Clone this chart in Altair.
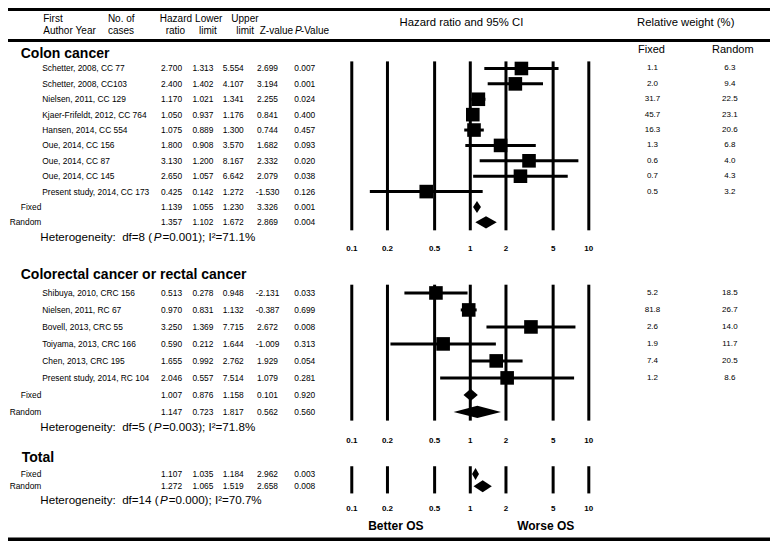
import altair as alt
import pandas as pd

# ---------------- values ----------------
colon_study = ["Schetter, 2008, CC 77", "Schetter, 2008, CC103", "Nielsen, 2011, CC 129",
               "Kjaer-Frifeldt, 2012, CC 764", "Hansen, 2014, CC 554", "Oue, 2014, CC 156",
               "Oue, 2014, CC 87", "Oue, 2014, CC 145", "Present study, 2014, CC 173"]
colon_hr = [2.700, 2.400, 1.170, 1.050, 1.075, 1.800, 3.130, 2.650, 0.425]
colon_lo = [1.313, 1.402, 1.021, 0.937, 0.889, 0.908, 1.200, 1.057, 0.142]
colon_hi = [5.554, 4.107, 1.341, 1.176, 1.300, 3.570, 8.167, 6.642, 1.272]
colon_z = [2.699, 3.194, 2.255, 0.841, 0.744, 1.682, 2.332, 2.079, -1.530]
colon_p = [0.007, 0.001, 0.024, 0.400, 0.457, 0.093, 0.020, 0.038, 0.126]
colon_wf = [1.1, 2.0, 31.7, 45.7, 16.3, 1.3, 0.6, 0.7, 0.5]
colon_wr = [6.3, 9.4, 22.5, 23.1, 20.6, 6.8, 4.0, 4.3, 3.2]
colon_fixed = [1.139, 1.055, 1.230, 3.326, 0.001]   # HR, lower, upper, Z, P
colon_random = [1.357, 1.102, 1.672, 2.869, 0.004]

crc_study = ["Shibuya, 2010, CRC 156", "Nielsen, 2011, RC 67", "Bovell, 2013, CRC 55",
             "Toiyama, 2013, CRC 166", "Chen, 2013, CRC 195", "Present study, 2014, RC 104"]
crc_hr = [0.513, 0.970, 3.250, 0.590, 1.655, 2.046]
crc_lo = [0.278, 0.831, 1.369, 0.212, 0.992, 0.557]
crc_hi = [0.948, 1.132, 7.715, 1.644, 2.762, 7.514]
crc_z = [-2.131, -0.387, 2.672, -1.009, 1.929, 1.079]
crc_p = [0.033, 0.699, 0.008, 0.313, 0.054, 0.281]
crc_wf = [5.2, 81.8, 2.6, 1.9, 7.4, 1.2]
crc_wr = [18.5, 26.7, 14.0, 11.7, 20.5, 8.6]
crc_fixed = [1.007, 0.876, 1.158, 0.101, 0.920]
crc_random = [1.147, 0.723, 1.817, 0.562, 0.560]

total_fixed = [1.107, 1.035, 1.184, 2.962, 0.003]
total_random = [1.272, 1.065, 1.519, 2.658, 0.008]

section_names = ["Colon cancer", "Colorectal cancer or rectal cancer", "Total"]
het_df = [8, 5, 14]
het_p = ["0.001", "0.003", "0.000"]
het_i2 = [71.1, 71.8, 70.7]

ticks = [0.1, 0.2, 0.5, 1, 2, 5, 10]
tick_text = ["0.1", "0.2", "0.5", "1", "2", "5", "10"]

# ---------------- layout ----------------
W, H = 762, 533
KX, KY = W / 778, H / 549
NARROW = "Liberation Sans Narrow, Arial Narrow, Liberation Sans, Arial, sans-serif"
SANS = "Liberation Sans, Arial, Helvetica, sans-serif"

LAYOUT = [
    dict(title_x=13, title_y=47, row0=62.3, pitch=15.85, het_y=237, tick_y=248, top=55, bot=229),
    dict(title_x=13, title_y=275, row0=293.5, pitch=17.5, het_y=433, tick_y=446.5, top=285, bot=425),
    dict(title_x=14, title_y=463, row0=480, pitch=12.5, het_y=508, tick_y=516, top=472, bot=500),
]

studies = [
    (colon_study, colon_hr, colon_lo, colon_hi, colon_z, colon_p, colon_wf, colon_wr, colon_fixed, colon_random),
    (crc_study, crc_hr, crc_lo, crc_hi, crc_z, crc_p, crc_wf, crc_wr, crc_fixed, crc_random),
    ([], [], [], [], [], [], [], [], total_fixed, total_random),
]

rows = []
diamonds = []
grid = []
for si, (lab, hr, lo, hi, z, p, wf, wr, fx, rd) in enumerate(studies):
    L = LAYOUT[si]
    for i in range(len(lab)):
        rows.append(dict(label=lab[i], kind="study", hr=hr[i], lo=lo[i], hi=hi[i],
                         hr_s=f"{hr[i]:.3f}", lo_s=f"{lo[i]:.3f}", hi_s=f"{hi[i]:.3f}",
                         z_s=f"{z[i]:.3f}", p_s=f"{p[i]:.3f}",
                         wf_s=f"{wf[i]:.1f}", wr_s=f"{wr[i]:.1f}",
                         y=L["row0"] + i * L["pitch"]))
    for j, (name, vals) in enumerate([("Fixed", fx), ("Random", rd)]):
        y = L["row0"] + (len(lab) + j) * L["pitch"]
        rows.append(dict(label=name, kind="pooled", hr=vals[0], lo=vals[1], hi=vals[2],
                         hr_s=f"{vals[0]:.3f}", lo_s=f"{vals[1]:.3f}", hi_s=f"{vals[2]:.3f}",
                         z_s=f"{vals[3]:.3f}", p_s=f"{vals[4]:.3f}", wf_s="", wr_s="", y=y))
        h = 6.2
        did = f"{si}-{name}"
        diamonds += [dict(id=did, v=vals[1], ya=y, yb=y),
                     dict(id=did, v=vals[0], ya=y - h, yb=y + h),
                     dict(id=did, v=vals[2], ya=y, yb=y)]
    for t, tt in zip(ticks, tick_text):
        grid.append(dict(t=t, tt=tt, top=L["top"], bot=L["bot"], ty=L["tick_y"]))

rows = pd.DataFrame(rows)
diamonds = pd.DataFrame(diamonds)
grid = pd.DataFrame(grid)

ys = alt.Scale(domain=[0, 549], range=[0, H], nice=False, zero=False)
xs = alt.Scale(type="log", domain=[0.1, 10], range=[351 * KX, 593 * KX], nice=False)
Y = lambda f: alt.Y(f, scale=ys, axis=None)
X = lambda f: alt.X(f, scale=xs, axis=None)

layers = []


def label(text, x, y, size, weight="normal", align="left", font=SANS, italic=False):
    return alt.Chart(pd.DataFrame({"t": [text]})).mark_text(
        font=font, fontSize=size, fontWeight=weight, align=align, baseline="middle",
        fontStyle="italic" if italic else "normal", color="black"
    ).encode(x=alt.value(x * KX), y=alt.value(y * KY), text="t:N")


def hline(y, width):
    return alt.Chart(pd.DataFrame({"a": [0]})).mark_rule(color="black", strokeWidth=width).encode(
        x=alt.value(0), x2=alt.value(W), y=alt.value(y * KY))


# frame lines
layers += [hline(1.5, 3), hline(33.5, 3), hline(547.5, 4)]

# header
hdr = [("First", 36, 11), ("No. of", 102, 11), ("Hazard", 155, 11), ("Lower", 191, 11), ("Upper", 228, 11),
       ("Author", 36, 24), ("Year", 69, 24), ("cases", 102, 24), ("ratio", 161, 24), ("limit", 195, 24),
       ("limit", 233, 24), ("Z-value", 257, 24)]
for t, x, y in hdr:
    layers.append(label(t, x, y, 10, font=NARROW))
layers.append(label("P", 293, 24, 10, font=NARROW, italic=True))
layers.append(label("-Value", 299, 24, 10, font=NARROW))
layers.append(label("Hazard ratio and 95% CI", 463, 15, 11.3, align="center"))
layers.append(label("Relative weight (%)", 692, 15, 11.3, align="center"))
layers.append(label("Fixed", 657, 43, 11, align="center"))
layers.append(label("Random", 740, 43, 11, align="center"))

# section titles and heterogeneity lines
AW = {'H': .722, 'e': .556, 't': .278, 'r': .333, 'o': .556, 'g': .556, 'n': .556, 'i': .222, 'y': .5,
      ':': .278, ' ': .278, '\u00a0': .278, 'd': .556, 'f': .278, '=': .584, '(': .333, ')': .333,
      '.': .278, ';': .278, 'I': .278, '²': .333, '%': .889, 'P': .667}
for d in "0123456789":
    AW[d] = .556
width = lambda s, fs: sum(AW.get(c, .556) for c in s) * fs

for si, L in enumerate(LAYOUT):
    layers.append(label(section_names[si], L["title_x"], L["title_y"], 14, weight="bold"))
    fs = 11.6
    p1 = f"Heterogeneity:\u00a0 df={het_df[si]} ("
    p3 = f"={het_p[si]}); I²={het_i2[si]:.1f}%"
    x0 = 33
    x1 = x0 + width(p1, fs) / KX + 1.5
    layers.append(label(p1, x0, L["het_y"], fs))
    layers.append(label("P", x1, L["het_y"], fs, italic=True))
    layers.append(label(p3, x1 + width("P", fs) / KX + 1.0, L["het_y"], fs))

base = alt.Chart(rows)
study = base.transform_filter(alt.datum.kind == "study")
pooled = base.transform_filter(alt.datum.kind == "pooled")

txt = dict(font=NARROW, fontSize=8.4, baseline="middle", color="black")
layers.append(study.mark_text(align="left", **txt).encode(x=alt.value(35 * KX), y=Y("y:Q"), text="label:N"))
layers.append(pooled.mark_text(align="right", **txt).encode(x=alt.value(34 * KX), y=Y("y:Q"), text="label:N"))
for col, cx in [("hr_s", 167), ("lo_s", 199), ("hi_s", 230), ("z_s", 265), ("p_s", 303)]:
    layers.append(base.mark_text(align="center", **txt).encode(x=alt.value(cx * KX), y=Y("y:Q"), text=f"{col}:N"))
wtxt = dict(font=SANS, fontSize=8, baseline="middle", color="black", align="center")
layers.append(study.mark_text(**wtxt).encode(x=alt.value(658 * KX), y=Y("y:Q"), text="wf_s:N"))
layers.append(study.mark_text(**wtxt).encode(x=alt.value(737 * KX), y=Y("y:Q"), text="wr_s:N"))

# forest panels
g = alt.Chart(grid)
layers.append(g.mark_rule(color="black", strokeWidth=3).encode(x=X("t:Q"), y=Y("top:Q"), y2="bot:Q"))
layers.append(g.mark_text(font=SANS, fontSize=8, fontWeight="bold", baseline="middle", align="center",
                          color="black").encode(x=X("t:Q"), y=Y("ty:Q"), text="tt:N"))
layers.append(study.mark_rule(color="black", strokeWidth=3).encode(x=X("lo:Q"), x2="hi:Q", y=Y("y:Q")))
layers.append(study.mark_square(color="black", size=185, opacity=1).encode(x=X("hr:Q"), y=Y("y:Q")))
layers.append(alt.Chart(diamonds).mark_area(color="black", opacity=1).encode(
    x=X("v:Q"), y=Y("ya:Q"), y2="yb:Q", detail="id:N"))

layers.append(label("Better OS", 396, 534, 12, weight="bold", align="center"))
layers.append(label("Worse OS", 549, 534, 12, weight="bold", align="center"))

chart = alt.layer(*layers).properties(
    width=W, height=H, padding=0, autosize=alt.AutoSizeParams(type="none")
).configure_view(stroke=None)

chart.save("out.html", embed_options={"renderer": "svg", "actions": False})
